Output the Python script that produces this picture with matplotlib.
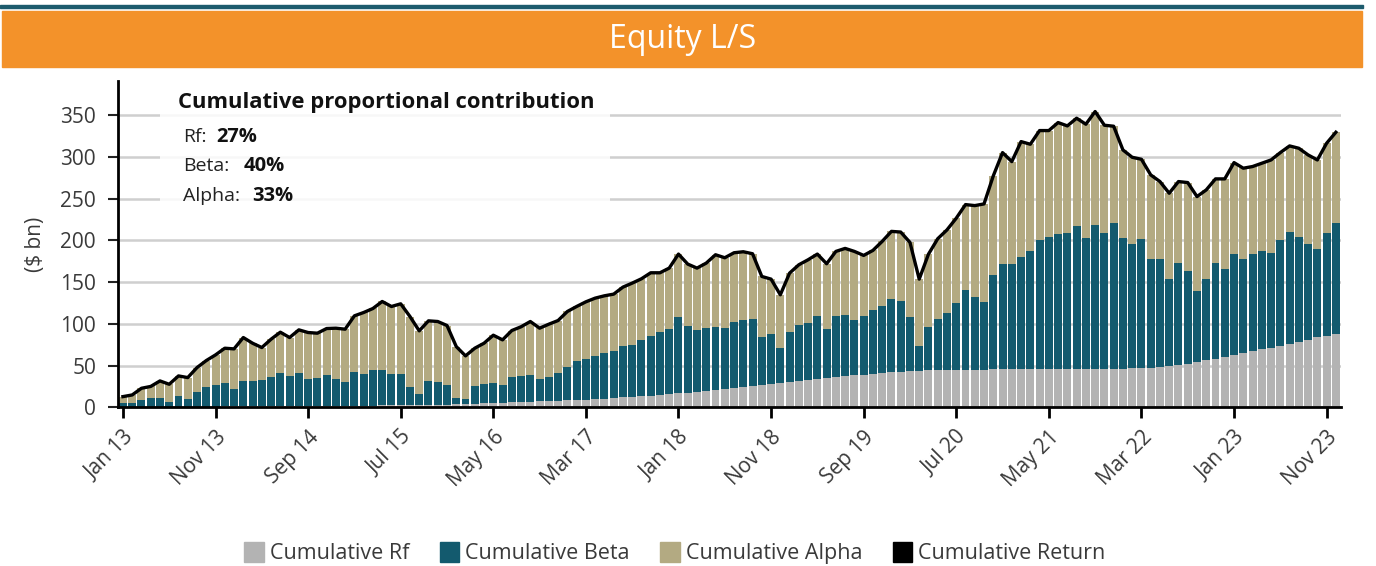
import matplotlib
matplotlib.use("Agg")
import matplotlib.pyplot as plt
from matplotlib.patches import Rectangle, Patch
import numpy as np
import pandas as pd

# ---------------- data ----------------
months = pd.date_range("2013-01-01", "2023-12-01", freq="MS")
month_labels = [d.strftime("%b %y") for d in months]
tick_labels = ["Jan 13", "Nov 13", "Sep 14", "Jul 15", "May 16", "Mar 17", "Jan 18",
               "Nov 18", "Sep 19", "Jul 20", "May 21", "Mar 22", "Jan 23", "Nov 23"]

cum_rf = [0.2, 0.3, 0.4, 0.4, 0.5, 0.6, 0.6, 0.7, 0.8, 0.8,
          0.9, 1.0, 1.0, 1.1, 1.1, 1.2, 1.2, 1.3, 1.3, 1.4,
          1.5, 1.5, 1.6, 1.6, 1.7, 1.8, 1.9, 2.0, 2.5, 2.6,
          2.8, 2.8, 2.9, 3.0, 3.0, 3.2, 3.8, 4.0, 4.2, 4.6,
          4.8, 5.0, 6.0, 6.4, 6.6, 7.4, 7.6, 7.8, 8.6, 8.8,
          9.0, 9.8, 10.2, 11.2, 12.2, 12.6, 13.4, 13.8, 14.8, 16.0,
          17.0, 17.4, 18.4, 19.6, 20.8, 22.4, 23.2, 24.8, 26.0, 27.2,
          28.0, 29.2, 30.4, 31.6, 32.8, 34.0, 35.2, 36.4, 37.6, 38.4,
          38.8, 40.0, 41.2, 42.4, 42.4, 43.6, 43.6, 44.4, 44.8, 44.8,
          44.8, 44.8, 44.8, 44.8, 45.5, 45.5, 45.5, 45.5, 45.5, 46.3,
          46.3, 46.3, 46.3, 46.3, 46.3, 46.3, 46.3, 46.3, 46.3, 47.0,
          47.5, 47.5, 48.3, 49.5, 50.7, 51.9, 54.3, 56.7, 57.9, 60.3,
          62.7, 65.1, 67.5, 69.9, 71.1, 73.5, 75.9, 78.3, 80.7, 83.9,
          85.5, 87.9]

cum_beta = [5.4, 5.3, 8.8, 11.2, 11.1, 6.2, 13.4, 9.7, 18.0, 24.0,
            25.9, 28.2, 21.4, 30.5, 30.5, 31.6, 35.6, 40.3, 36.7, 40.2,
            32.9, 34.1, 37.2, 32.4, 28.7, 40.6, 38.1, 42.8, 42.3, 37.4,
            37.2, 21.6, 13.1, 28.6, 27.4, 23.6, 7.8, 6.0, 21.4, 23.4,
            24.4, 21.8, 30.4, 31.2, 32.2, 26.6, 28.8, 33.4, 39.8, 46.8,
            49.0, 51.8, 55.0, 56.4, 61.4, 62.2, 67.4, 71.8, 75.6, 78.0,
            91.4, 80.2, 74.4, 75.6, 75.6, 72.8, 79.2, 80.0, 80.0, 57.2,
            60.0, 42.0, 60.0, 67.2, 68.4, 75.6, 58.8, 73.2, 73.2, 66.4,
            70.8, 76.8, 80.4, 87.6, 85.2, 64.8, 30.0, 52.0, 61.2, 68.2,
            80.2, 95.8, 87.4, 81.4, 113.1, 126.3, 126.3, 134.7, 141.9, 154.3,
            158.3, 161.5, 162.7, 171.0, 157.1, 172.2, 162.7, 174.7, 157.1, 148.8,
            154.3, 130.3, 129.5, 104.3, 122.3, 111.5, 85.1, 97.1, 115.1, 105.5,
            121.1, 112.7, 116.3, 117.5, 113.9, 127.1, 134.2, 125.9, 115.1, 105.5,
            123.5, 133.1]

cum_alpha = [7.2, 9.2, 13.6, 13.4, 20.0, 20.8, 23.6, 25.2, 28.8, 31.2,
             36.0, 41.6, 47.6, 52.0, 45.2, 38.8, 44.8, 48.4, 45.6, 51.2,
             55.2, 53.2, 55.6, 60.8, 63.2, 67.2, 73.6, 73.6, 82.0, 80.8,
             84.0, 84.4, 75.6, 72.0, 72.4, 71.2, 61.2, 51.6, 45.2, 48.8,
             57.2, 54.0, 55.6, 58.9, 64.0, 60.8, 63.2, 62.8, 66.4, 65.2,
             68.4, 69.2, 68.4, 68.0, 70.4, 74.0, 73.2, 75.6, 70.8, 72.8,
             75.2, 74.0, 74.0, 77.6, 86.4, 84.0, 82.8, 81.6, 78.0, 72.4,
             65.6, 63.6, 70.4, 72.0, 75.6, 74.0, 78.0, 77.2, 79.6, 82.0,
             72.4, 71.2, 77.2, 80.8, 82.4, 89.2, 80.0, 87.1, 96.0, 99.6,
             101.6, 102.3, 109.5, 117.5, 118.7, 133.4, 122.6, 138.2, 127.8, 131.0,
             127.0, 133.4, 128.2, 129.1, 135.8, 135.9, 129.0, 115.8, 105.0, 103.8,
             95.4, 100.7, 92.7, 102.7, 97.5, 105.9, 113.1, 106.7, 100.7, 107.9,
             109.4, 108.7, 104.7, 105.1, 111.4, 104.6, 103.1, 106.2, 106.6, 107.0,
             107.4, 108.6]

cum_return = [12.8, 14.8, 22.8, 25.0, 31.6, 27.6, 37.6, 35.6, 47.6, 56.0,
              62.8, 70.8, 70.0, 83.6, 76.8, 71.6, 81.6, 90.0, 83.6, 92.8,
              89.6, 88.8, 94.4, 94.8, 93.6, 109.6, 113.6, 118.4, 126.8, 120.8,
              124.0, 108.8, 91.6, 103.6, 102.8, 98.0, 72.8, 61.6, 70.8, 76.8,
              86.4, 80.8, 92.0, 96.5, 102.8, 94.8, 99.6, 104.0, 114.8, 120.8,
              126.4, 130.8, 133.6, 135.6, 144.0, 148.8, 154.0, 161.2, 161.2, 166.8,
              183.6, 171.6, 166.8, 172.8, 182.8, 179.2, 185.2, 186.4, 184.0, 156.8,
              153.6, 134.8, 160.8, 170.8, 176.8, 183.6, 172.0, 186.8, 190.4, 186.8,
              182.0, 188.0, 198.8, 210.8, 210.0, 197.6, 153.6, 183.5, 202.0, 212.6,
              226.6, 242.9, 241.7, 243.7, 277.3, 305.2, 294.4, 318.4, 315.2, 331.6,
              331.6, 341.2, 337.2, 346.4, 339.2, 354.4, 338.0, 336.8, 308.4, 299.6,
              297.2, 278.5, 270.5, 256.5, 270.5, 269.3, 252.5, 260.5, 273.7, 273.7,
              293.2, 286.5, 288.5, 292.5, 296.4, 305.2, 313.2, 310.4, 302.4, 296.4,
              316.4, 329.6]

contrib_labels = ["Rf:", "Beta:", "Alpha:"]
contrib_values = ["27%", "40%", "33%"]

# ---------------- style ----------------
C_RF = "#b3b3b3"
C_BETA = "#135a6e"
C_ALPHA = "#b3aa82"
C_LINE = "#000000"
C_ORANGE = "#f3922a"
C_TEAL_LINE = "#1d5b6d"
TXT = "#3a3a3a"
FONT = ["Open Sans", "DejaVu Sans"]
plt.rcParams["font.family"] = FONT

fig = plt.figure(figsize=(13.76, 5.66), dpi=100)
W, H = 1376, 566

# header
fig.patches.append(Rectangle((0, (H - 8) / H), 1363 / W, 3 / H, transform=fig.transFigure,
                             color=C_TEAL_LINE, zorder=0))
fig.patches.append(Rectangle((2 / W, (H - 67) / H), 1360 / W, 56 / H, transform=fig.transFigure,
                             color=C_ORANGE, zorder=0))
fig.text(683 / W, (H - 39) / H, "Equity L/S", color="white", fontsize=23,
         ha="center", va="center")

ax = fig.add_axes([118.3 / W, (H - 407.3) / H, 1222.2 / W, 326.3 / H])

x = np.arange(len(months))
rf = np.array(cum_rf)
beta = np.array(cum_beta)
alpha = np.array(cum_alpha)
bw = 0.86
ax.bar(x, rf, width=bw, color=C_RF, zorder=2)
ax.bar(x, beta, width=bw, bottom=rf, color=C_BETA, zorder=2)
ax.bar(x, alpha, width=bw, bottom=rf + beta, color=C_ALPHA, zorder=2)
ax.plot(x, cum_return, color=C_LINE, lw=2.4, zorder=4, solid_joinstyle="round")

ax.set_xlim(-0.5, len(months) - 0.5)
ax.set_ylim(0, 391)
ax.set_yticks(np.arange(0, 351, 50))
ax.yaxis.grid(True, color="#cfcfcf", lw=1.8, zorder=0)
ax.set_axisbelow(True)

tick_pos = [month_labels.index(t) for t in tick_labels]
ax.set_xticks(tick_pos)
ax.set_xticklabels(tick_labels, rotation=45, ha="right", va="top", rotation_mode="anchor")

for s in ["top", "right"]:
    ax.spines[s].set_visible(False)
for s in ["left", "bottom"]:
    ax.spines[s].set_linewidth(2)
    ax.spines[s].set_color("black")
ax.tick_params(axis="x", length=8, width=2, color="black", labelsize=15, labelcolor=TXT, pad=6)
ax.tick_params(axis="y", length=7, width=1.5, color="#222222", labelsize=15, labelcolor=TXT, pad=9)
ax.set_ylabel("($ bn)", fontsize=15, color=TXT, labelpad=10)

# annotation box
ax.add_patch(Rectangle((0.034, 0.59), 0.368, 0.40, transform=ax.transAxes, facecolor="white",
                       alpha=0.85, edgecolor="none", zorder=3))
ax.text(0.0488, 0.933, "Cumulative proportional contribution", transform=ax.transAxes,
        fontsize=15.8, fontweight="bold", color="#111111", va="center", ha="left", zorder=5)
ys = [0.8287, 0.740, 0.648]
vx = [0.0799, 0.1028, 0.1094]
for lab, val, yy, xx in zip(contrib_labels, contrib_values, ys, vx):
    ax.text(0.053, yy, lab, transform=ax.transAxes, fontsize=14, color="#222222",
            va="center", ha="left", zorder=5)
    ax.text(xx, yy, val, transform=ax.transAxes, fontsize=14.5, fontweight="bold",
            color="#111111", va="center", ha="left", zorder=5)

handles = [Patch(color=C_RF), Patch(color=C_BETA), Patch(color=C_ALPHA), Patch(color=C_LINE)]
names = ["Cumulative Rf", "Cumulative Beta", "Cumulative Alpha", "Cumulative Return"]
leg = fig.legend(handles, names, loc="center", bbox_to_anchor=(675 / W, (H - 553) / H), ncol=4,
                 frameon=False, fontsize=15.5, handlelength=0.9, handleheight=1.1,
                 handletextpad=0.3, columnspacing=1.4)
for t in leg.get_texts():
    t.set_color(TXT)

fig.savefig("out.png", dpi=100)
